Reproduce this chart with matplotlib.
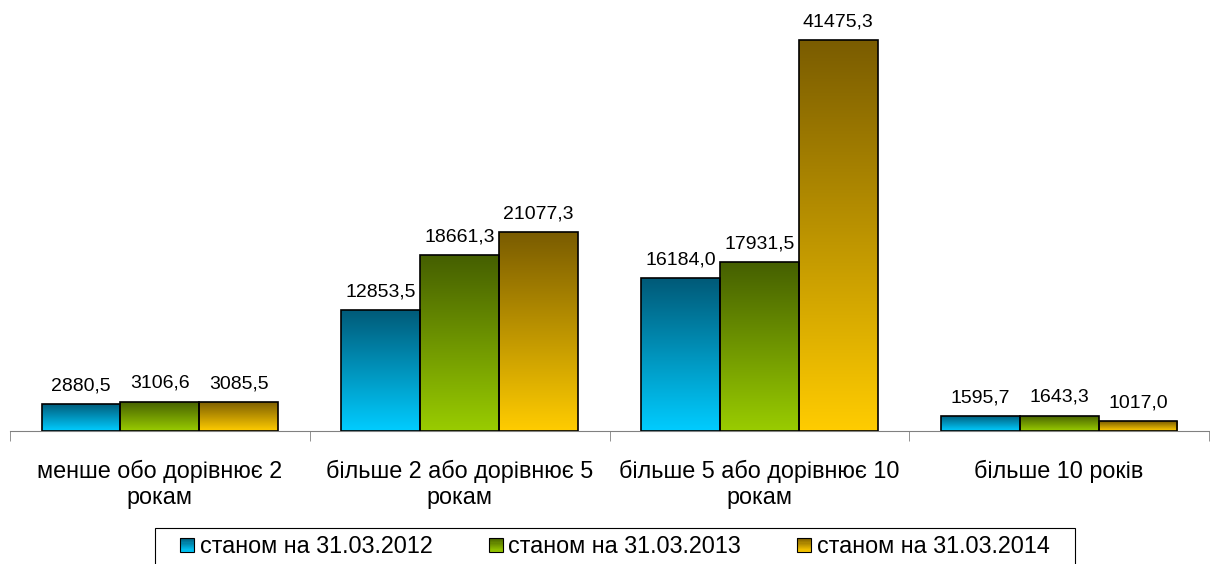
import numpy as np
import matplotlib
matplotlib.use('Agg')
import matplotlib.pyplot as plt
from matplotlib.colors import to_rgb
from matplotlib.patches import Rectangle
from matplotlib.legend_handler import HandlerBase

plt.rcParams['font.family'] = ['Liberation Sans', 'DejaVu Sans']

categories = ['менше обо дорівнює 2\nрокам',
              'більше 2 або дорівнює 5\nрокам',
              'більше 5 або дорівнює 10\nрокам',
              'більше 10 років']
series_names = ['станом на 31.03.2012', 'станом на 31.03.2013', 'станом на 31.03.2014']
val_2012 = [2880.5, 12853.5, 16184.0, 1595.7]
val_2013 = [3106.6, 18661.3, 17931.5, 1643.3]
val_2014 = [3085.5, 21077.3, 41475.3, 1017.0]

# (top colour, bottom colour) of the vertical gradient in each series
grads = [('#005a78', '#00ccff'),
         ('#455f00', '#99cc00'),
         ('#7a5c00', '#ffcc00')]


def grad_img(top, bottom, n=128):
    t = np.linspace(0, 1, n)[:, None]
    a, b = np.array(to_rgb(top)), np.array(to_rgb(bottom))
    return (a + (b - a) * t)[:, None, :]


class GradHandler(HandlerBase):
    def __init__(self, top, bottom, n=12):
        super().__init__()
        self.top, self.bottom, self.n = top, bottom, n

    def create_artists(self, legend, orig_handle, xdescent, ydescent,
                       width, height, fontsize, trans):
        a, b = np.array(to_rgb(self.top)), np.array(to_rgb(self.bottom))
        s = min(width, height)
        x0 = -xdescent
        y0 = -ydescent + (height - s) / 2
        arts = []
        for i in range(self.n):
            f = 1 - (i + 0.5) / self.n
            arts.append(Rectangle((x0, y0 + s * i / self.n), s, s / self.n,
                                  facecolor=a + (b - a) * f, edgecolor='none',
                                  transform=trans))
        arts.append(Rectangle((x0, y0), s, s, facecolor='none',
                              edgecolor='black', lw=0.8, transform=trans))
        return arts


fig = plt.figure(figsize=(12.1, 5.64), dpi=100)
ax = fig.add_axes([10 / 1210, 133 / 564, 1199 / 1210, (431 - 11) / 564])

x = np.arange(len(categories))
w = 0.263
handles = []
for k, vals in enumerate([val_2012, val_2013, val_2014]):
    pos = x + (k - 1) * w
    bars = ax.bar(pos, vals, w, facecolor='none', edgecolor='black', lw=1.2, zorder=3)
    img = grad_img(*grads[k])
    for bar, v in zip(bars, vals):
        bx = bar.get_x()
        im = ax.imshow(img, extent=(bx, bx + w, 0, v), aspect='auto',
                       origin='upper', zorder=2, interpolation='bilinear')
        im.set_clip_path(bar)
        ax.annotate(f'{v:.1f}'.replace('.', ','), (bx + w / 2, v),
                    xytext=(0, 7), textcoords='offset points',
                    ha='center', va='bottom', fontsize=14)
    handles.append(bars)

ax.set_xlim(-0.5, 3.5)
ax.set_ylim(0, 44550)
for s in ['top', 'left', 'right']:
    ax.spines[s].set_visible(False)
ax.spines['bottom'].set_color('#808080')
ax.set_yticks([])
ax.set_xticks(x)
ax.set_xticklabels(categories, fontsize=16.8, linespacing=1.2)
ax.tick_params(axis='x', which='major', length=0, pad=20.5)
ax.set_xticks(np.arange(-0.5, 4, 1), minor=True)
ax.tick_params(axis='x', which='minor', length=7, color='#808080', direction='out')

# legend frame (runs off the bottom edge, as in the original)
fig.patches.append(Rectangle((155 / 1210, -0.05), 920 / 1210, 0.05 + 36 / 564,
                             transform=fig.transFigure, facecolor='white',
                             edgecolor='black', lw=0.8, zorder=0))
leg = fig.legend(handles, series_names, loc='upper left', ncol=3,
                 bbox_to_anchor=(180 / 1210, 1 - 535 / 564),
                 handler_map={h: GradHandler(*g) for h, g in zip(handles, grads)},
                 fontsize=16.8, frameon=False,
                 handlelength=0.6, handleheight=0.6, handletextpad=0.25,
                 columnspacing=2.4, borderpad=0, borderaxespad=0)

fig.savefig('out.png', dpi=100)
